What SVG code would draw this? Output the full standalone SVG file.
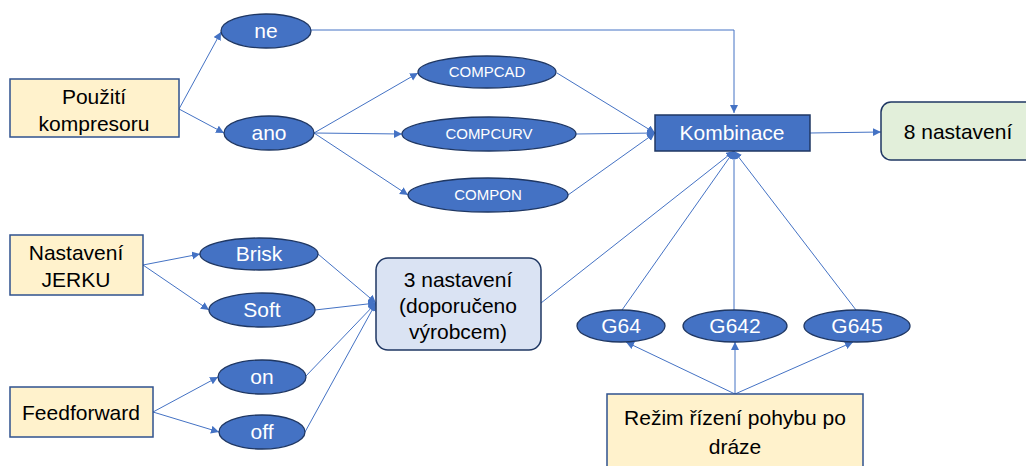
<svg xmlns="http://www.w3.org/2000/svg" width="1026" height="466" viewBox="0 0 1026 466">
<defs>
<marker id="ah" markerUnits="userSpaceOnUse" markerWidth="9" markerHeight="9" refX="8" refY="4" orient="auto"><path d="M0,0 L8,4 L0,8 z" fill="#4472c4"/></marker>
<style>
.c{fill:none;stroke:#4472c4;stroke-width:1;marker-end:url(#ah)}
.e{fill:#4472c4;stroke:#1f3763;stroke-width:1.3}
.y{fill:#fff2cc;stroke:#2f528f;stroke-width:1.5}
.t{font-family:"Liberation Sans",Arial,sans-serif;font-size:21px;text-anchor:middle;fill:#000}
.w{font-family:"Liberation Sans",Arial,sans-serif;font-size:21px;text-anchor:middle;fill:#fff}
.s{font-size:15px}
</style>
</defs>
<rect width="1026" height="466" fill="#fff"/>
<g id="connectors">
<line class="c" x1="179" y1="109" x2="221" y2="32"/>
<line class="c" x1="179" y1="109" x2="224" y2="133"/>
<polyline class="c" points="311,30 734,30 734,113"/>
<line class="c" x1="314" y1="133" x2="418" y2="73"/>
<line class="c" x1="314" y1="133" x2="402" y2="134"/>
<line class="c" x1="314" y1="133" x2="408" y2="195"/>
<line class="c" x1="557" y1="73" x2="655" y2="133"/>
<line class="c" x1="576" y1="134" x2="655" y2="133"/>
<line class="c" x1="568" y1="195" x2="655" y2="133"/>
<line class="c" x1="810" y1="133" x2="881" y2="132"/>
<line class="c" x1="541" y1="303" x2="734" y2="151"/>
<line class="c" x1="622" y1="310" x2="734" y2="151"/>
<line class="c" x1="734" y1="310" x2="734" y2="151"/>
<line class="c" x1="856" y1="310" x2="734" y2="151"/>
<line class="c" x1="143" y1="265" x2="200" y2="254"/>
<line class="c" x1="143" y1="265" x2="209" y2="310"/>
<line class="c" x1="153" y1="412" x2="218" y2="377"/>
<line class="c" x1="153" y1="412" x2="219" y2="432"/>
<line class="c" x1="318" y1="254" x2="376" y2="303"/>
<line class="c" x1="315" y1="310" x2="376" y2="303"/>
<line class="c" x1="305" y1="377" x2="376" y2="303"/>
<line class="c" x1="305" y1="432" x2="376" y2="303"/>
<line class="c" x1="735" y1="394" x2="626" y2="342"/>
<line class="c" x1="735" y1="394" x2="735" y2="342"/>
<line class="c" x1="735" y1="394" x2="853" y2="342"/>
</g>
<g id="pouziti"><rect class="y" x="10" y="79" width="169" height="58"/><text class="t" x="94" y="104">Použití</text><text class="t" x="94" y="131">kompresoru</text></g>
<g id="ne"><ellipse class="e" cx="266" cy="31" rx="45" ry="17"/><text class="w" x="266" y="38">ne</text></g>
<g id="ano"><ellipse class="e" cx="269" cy="133" rx="45" ry="17"/><text class="w" x="269" y="140">ano</text></g>
<g id="compcad"><ellipse class="e" cx="487" cy="72" rx="69" ry="16"/><text class="w s" x="487" y="77">COMPCAD</text></g>
<g id="compcurv"><ellipse class="e" cx="489" cy="134" rx="87" ry="17"/><text class="w s" x="489" y="139">COMPCURV</text></g>
<g id="compon"><ellipse class="e" cx="488" cy="195" rx="80" ry="17"/><text class="w s" x="488" y="200">COMPON</text></g>
<g id="kombinace"><rect x="655" y="115" width="155" height="36" fill="#4472c4" stroke="#1f3763" stroke-width="1.5"/><text class="w" x="732" y="140">Kombinace</text></g>
<g id="osm"><rect x="881" y="102" width="160" height="58" rx="10" fill="#e2efda" stroke="#1f3763" stroke-width="1.5"/><text class="t" x="958" y="139">8 nastavení</text></g>
<g id="jerk"><rect class="y" x="10" y="235" width="133" height="60"/><text class="t" x="76" y="260">Nastavení</text><text class="t" x="76" y="287">JERKU</text></g>
<g id="brisk"><ellipse class="e" cx="259" cy="254" rx="59" ry="16"/><text class="w" x="259" y="261">Brisk</text></g>
<g id="soft"><ellipse class="e" cx="262" cy="310" rx="53" ry="17"/><text class="w" x="262" y="317">Soft</text></g>
<g id="feed"><rect class="y" x="10" y="387" width="143" height="50"/><text class="t" x="81" y="420">Feedforward</text></g>
<g id="on"><ellipse class="e" cx="262" cy="377" rx="44" ry="17"/><text class="w" x="262" y="384">on</text></g>
<g id="off"><ellipse class="e" cx="262" cy="432" rx="43" ry="17"/><text class="w" x="262" y="439">off</text></g>
<g id="tri"><rect x="376" y="258" width="165" height="92" rx="12" fill="#dae3f3" stroke="#1f3763" stroke-width="1.5"/><text class="t" x="458" y="287">3 nastavení</text><text class="t" x="458" y="313">(doporučeno</text><text class="t" x="458" y="339">výrobcem)</text></g>
<g id="g64"><ellipse class="e" cx="621" cy="326" rx="44" ry="16"/><text class="w" x="621" y="333">G64</text></g>
<g id="g642"><ellipse class="e" cx="735" cy="326" rx="52" ry="16"/><text class="w" x="735" y="333">G642</text></g>
<g id="g645"><ellipse class="e" cx="857" cy="326" rx="53" ry="16"/><text class="w" x="857" y="333">G645</text></g>
<g id="rezim"><rect class="y" x="607" y="394" width="256" height="80"/><text class="t" x="735" y="425">Režim řízení pohybu po</text><text class="t" x="735" y="454">dráze</text></g>
</svg>
